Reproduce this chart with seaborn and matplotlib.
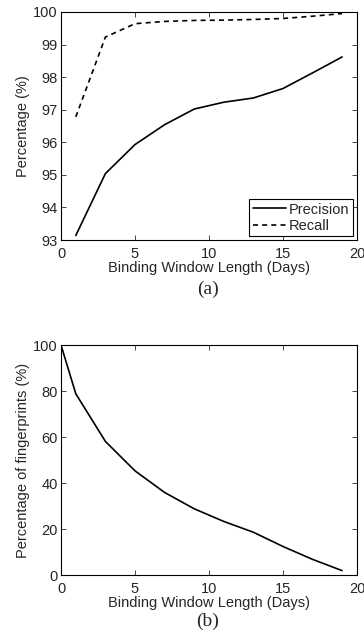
import numpy as np
import pandas as pd
import matplotlib
matplotlib.use("Agg")
import matplotlib.pyplot as plt
import seaborn as sns

# panel (a): precision / recall vs binding window length
days_a = [1, 3, 5, 7, 9, 11, 13, 15, 17, 19]
precision = [93.14, 95.04, 95.93, 96.54, 97.02, 97.23, 97.36, 97.65, 98.13, 98.62]
recall = [96.78, 99.23, 99.64, 99.71, 99.74, 99.75, 99.77, 99.80, 99.87, 99.95]

# panel (b): share of fingerprints remaining
days_b = [0, 1, 3, 5, 7, 9, 11, 13, 15, 17, 19]
fingerprints = [100, 78.8, 58.1, 45.3, 35.9, 28.8, 23.3, 18.6, 12.4, 6.8, 1.9]

sns.set_style("ticks")
plt.rcParams['font.family'] = ['Liberation Sans', 'DejaVu Sans']
plt.rcParams['xtick.direction'] = 'in'
plt.rcParams['ytick.direction'] = 'in'
plt.rcParams['xtick.top'] = True
plt.rcParams['ytick.right'] = True

fs = 10.5

df_a = pd.DataFrame({'Days': days_a * 2,
                     'Value': precision + recall,
                     'Metric': ['Precision'] * len(days_a) + ['Recall'] * len(days_a)})
df_b = pd.DataFrame({'Days': days_b, 'Value': fingerprints})

fig = plt.figure(figsize=(3.64, 6.30), dpi=100)
ax1 = fig.add_axes([0.1676, 0.6190, 0.813, 0.3620])
ax2 = fig.add_axes([0.1676, 0.0873, 0.813, 0.365])

sns.lineplot(data=df_a, x='Days', y='Value', style='Metric', color='black',
             dashes={'Precision': '', 'Recall': (3, 2.5)}, linewidth=1.2, ax=ax1)
ax1.set_xlim(0, 20)
ax1.set_ylim(93, 100)
ax1.set_xticks([0, 5, 10, 15, 20])
ax1.set_yticks(range(93, 101))
ax1.set_ylabel('Percentage (%)', fontsize=fs, labelpad=2)
ax1.set_xlabel('Binding Window Length (Days)', fontsize=fs, labelpad=0)
leg = ax1.legend(loc='lower right', fontsize=fs, frameon=True, fancybox=False,
                 edgecolor='black', framealpha=1, borderpad=0.25, handlelength=2.3,
                 handletextpad=0.2, labelspacing=0.15, borderaxespad=0.25)
leg.get_frame().set_linewidth(0.8)

sns.lineplot(data=df_b, x='Days', y='Value', color='black', linewidth=1.2, ax=ax2)
ax2.set_xlim(0, 20)
ax2.set_ylim(0, 100)
ax2.set_xticks([0, 5, 10, 15, 20])
ax2.set_yticks(range(0, 101, 20))
ax2.set_ylabel('Percentage of fingerprints (%)', fontsize=fs, labelpad=2)
ax2.set_xlabel('Binding Window Length (Days)', fontsize=fs, labelpad=0)

for ax in (ax1, ax2):
    ax.tick_params(labelsize=fs, length=3.5, width=0.6)
    ax.tick_params(axis='x', pad=5)
    ax.tick_params(axis='y', pad=2.5)
    for s in ax.spines.values():
        s.set_visible(True)
        s.set_linewidth(0.8)
        s.set_color('black')

fig.text(0.5714, 1 - 289 / 630, '(a)', ha='center', va='center',
         fontsize=14, family=['Liberation Serif', 'DejaVu Serif'])
fig.text(0.5714, 1 - 621 / 630, '(b)', ha='center', va='center',
         fontsize=14, family=['Liberation Serif', 'DejaVu Serif'])

fig.savefig('out.png', dpi=100)
